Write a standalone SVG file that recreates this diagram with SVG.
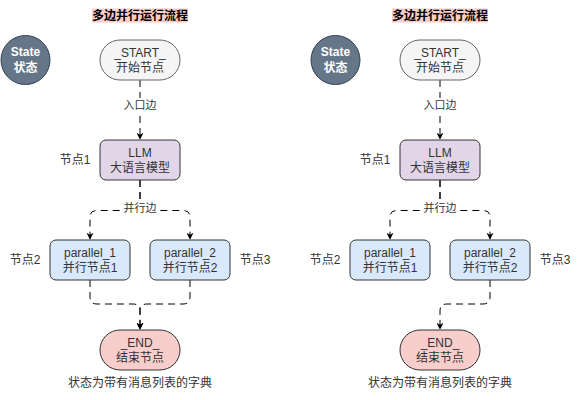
<svg xmlns="http://www.w3.org/2000/svg" width="581" height="400" viewBox="0 0 581 400">
<defs>
<style>
text{font-family:"Liberation Sans","Noto Sans CJK SC",sans-serif;font-size:12px;fill:#333;text-anchor:middle;dominant-baseline:central}
.title{font-weight:bold;fill:#000}
.st{fill:#fff;font-weight:bold}
.lbl{font-size:11px}
.side{text-anchor:start}
.edge{fill:none;stroke:#000;stroke-width:1;stroke-dasharray:7 5;marker-end:url(#arr)}
.start{fill:#f5f5f5;stroke:#666}
.llm{fill:#e1d5e7;stroke:#333}
.par{fill:#dae8fc;stroke:#333}
.end{fill:#f8cecc;stroke:#333}
.state{fill:#647687;stroke:#314354}
.hl{fill:#f8cecc}
.lb{fill:#fff}
</style>
<marker id="arr" viewBox="0 0 10 10" refX="9" refY="5" markerWidth="7" markerHeight="7" markerUnits="userSpaceOnUse" orient="auto">
<path d="M0,0 L10,5 L0,10 L3,5 Z" fill="#000"/>
</marker>
</defs>

<!-- LEFT DIAGRAM -->
<g id="connectors-left">
<path class="edge" d="M140,80 V139"/>
<rect class="lb" x="123" y="98" width="34" height="14"/>
<text class="lbl" x="140" y="105">入口边</text>
<path class="edge" d="M140,180 V204 Q140,210.5 133,210.5 H97 Q90,210.5 90,217 V239"/>
<path class="edge" d="M140,180 V204 Q140,210.5 147,210.5 H183 Q190,210.5 190,217 V239"/>
<rect class="lb" x="122" y="202" width="36" height="14"/>
<text class="lbl" x="140" y="208">并行边</text>
<path class="edge" d="M90,280 V297 Q90,304 97,304 H133 Q140,304 140,311 V329"/>
<path class="edge" d="M190,280 V297 Q190,304 183,304 H147 Q140,304 140,311 V329"/>
</g>
<g id="title-left">
<rect class="hl" x="92" y="8.5" width="96" height="14"/>
<text class="title" x="140" y="15.5">多边并行运行流程</text>
</g>
<g id="state-left">
<circle class="state" cx="25.5" cy="60" r="24.5"/>
<text class="st" x="25.5" y="52">State</text>
<text class="st" x="25.5" y="68">状态</text>
</g>
<g id="start-left">
<rect class="start" x="100" y="40" width="80" height="40" rx="20"/>
<text x="140" y="52.5">_START_</text>
<text x="140" y="67.5">开始节点</text>
</g>
<g id="llm-left">
<rect class="llm" x="100" y="140" width="80" height="40" rx="6"/>
<text x="140" y="152.5">LLM</text>
<text x="140" y="167.5">大语言模型</text>
<text x="75" y="160">节点1</text>
</g>
<g id="p1-left">
<rect class="par" x="50" y="240" width="80" height="40" rx="6"/>
<text x="90" y="252.5">parallel_1</text>
<text x="90" y="267.5">并行节点1</text>
<text x="25" y="260">节点2</text>
</g>
<g id="p2-left">
<rect class="par" x="150" y="240" width="80" height="40" rx="6"/>
<text x="190" y="252.5">parallel_2</text>
<text x="190" y="267.5">并行节点2</text>
<text x="255" y="260">节点3</text>
</g>
<g id="end-left">
<rect class="end" x="100" y="330" width="80" height="40" rx="20"/>
<text x="140" y="342.5">_END_</text>
<text x="140" y="357.5">结束节点</text>
<text x="140" y="383">状态为带有消息列表的字典</text>
</g>

<!-- RIGHT DIAGRAM -->
<g id="connectors-right">
<path class="edge" d="M440,80 V139"/>
<rect class="lb" x="423" y="98" width="34" height="14"/>
<text class="lbl" x="440" y="105">入口边</text>
<path class="edge" d="M440,180 V204 Q440,210.5 433,210.5 H397 Q390,210.5 390,217 V239"/>
<path class="edge" d="M440,180 V204 Q440,210.5 447,210.5 H483 Q490,210.5 490,217 V239"/>
<rect class="lb" x="422" y="202" width="36" height="14"/>
<text class="lbl" x="440" y="208">并行边</text>
<path class="edge" d="M490,280 V297 Q490,304 483,304 H447 Q440,304 440,311 V329"/>
</g>
<g id="title-right">
<rect class="hl" x="392" y="8.5" width="96" height="14"/>
<text class="title" x="440" y="15.5">多边并行运行流程</text>
</g>
<g id="state-right">
<circle class="state" cx="335.5" cy="60" r="24.5"/>
<text class="st" x="335.5" y="52">State</text>
<text class="st" x="335.5" y="68">状态</text>
</g>
<g id="start-right">
<rect class="start" x="400" y="40" width="80" height="40" rx="20"/>
<text x="440" y="52.5">_START_</text>
<text x="440" y="67.5">开始节点</text>
</g>
<g id="llm-right">
<rect class="llm" x="400" y="140" width="80" height="40" rx="6"/>
<text x="440" y="152.5">LLM</text>
<text x="440" y="167.5">大语言模型</text>
<text x="375" y="160">节点1</text>
</g>
<g id="p1-right">
<rect class="par" x="350" y="240" width="80" height="40" rx="6"/>
<text x="390" y="252.5">parallel_1</text>
<text x="390" y="267.5">并行节点1</text>
<text x="325" y="260">节点2</text>
</g>
<g id="p2-right">
<rect class="par" x="450" y="240" width="80" height="40" rx="6"/>
<text x="490" y="252.5">parallel_2</text>
<text x="490" y="267.5">并行节点2</text>
<text x="555" y="260">节点3</text>
</g>
<g id="end-right">
<rect class="end" x="400" y="330" width="80" height="40" rx="20"/>
<text x="440" y="342.5">_END_</text>
<text x="440" y="357.5">结束节点</text>
<text x="440" y="383">状态为带有消息列表的字典</text>
</g>
</svg>
